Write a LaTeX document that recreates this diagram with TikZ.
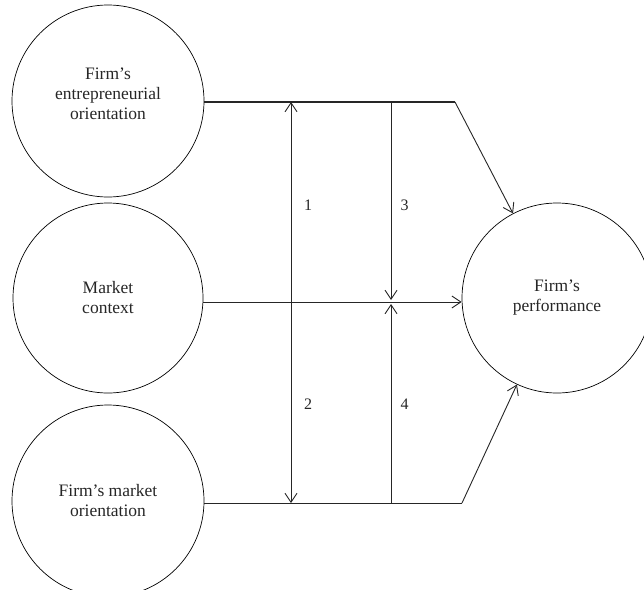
\documentclass[tikz,border=0pt]{standalone}
\usepackage{fontspec}
\setmainfont{Liberation Serif}
\usetikzlibrary{arrows.meta}
\begin{document}
\begin{tikzpicture}[x=1pt,y=-1pt,
  concept/.style={draw, circle, line width=0.7pt, inner sep=0pt, align=center,
    font=\fontsize{17.5}{20}\selectfont, text=black!85},
  link/.style={line width=0.9pt, draw=black!85},
  arr/.style={link, -{Straight Barb[length=9pt,width=12pt,line width=0.9pt]}},
  num/.style={font=\fontsize{16}{18}\selectfont, text=black!85, inner sep=0pt}]
\useasboundingbox (0,0) rectangle (644,589);
\node[concept, minimum size=192pt] (eo) at (108,101) {Firm's\\entrepreneurial\\orientation\\[-6pt]};
\node[concept, minimum size=190pt] (mc) at (108,298) {Market\\context};
\node[concept, minimum size=192pt] (mo) at (108,501) {Firm's market\\orientation};
\node[concept, minimum size=190pt] (fp) at (557,298) {Firm's\\performance};
\coordinate (tk) at (455,102);
\coordinate (bk) at (462,503);
\coordinate (v1t) at (291,102);
\coordinate (v1b) at (291,503);
\coordinate (v3t) at (391,102);
\coordinate (v3b) at (391,503);
\coordinate (j3) at (391,300);
\coordinate (j4) at (391,304);
% top path
\draw[link, line width=1.4pt] (eo.east |- tk) -- (tk);
\draw[arr] (tk) -- (fp);
% middle
\draw[arr] (mc.east |- 0,302) -- (fp.west |- 0,302);
% bottom path
\draw[link] (mo.east |- bk) -- (bk);
\draw[arr] (bk) -- (fp);
% verticals
\draw[arr, {Straight Barb[length=9pt,width=12pt,line width=0.9pt]}-{Straight Barb[length=9pt,width=12pt,line width=0.9pt]}] (v1t) -- (v1b);
\draw[arr] (v3t) -- (j3);
\draw[arr] (v3b) -- (j4);
% labels
\node[num] (n1) at (308,205) {1};
\node[num] (n2) at (308,404) {2};
\node[num] (n3) at (404.5,205) {3};
\node[num] (n4) at (404.5,404) {4};
\end{tikzpicture}
\end{document}
